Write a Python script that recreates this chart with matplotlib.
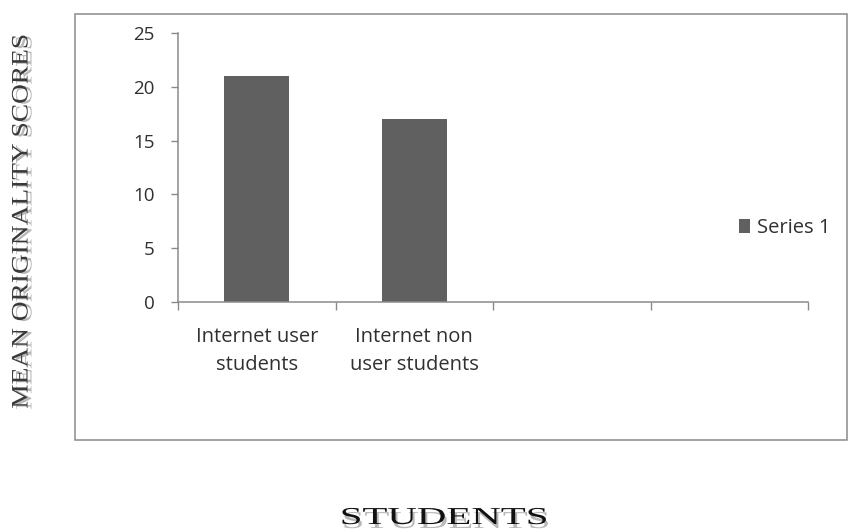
import matplotlib
matplotlib.use("Agg")
import matplotlib.pyplot as plt
from matplotlib.patches import Rectangle
from matplotlib.patheffects import AbstractPathEffect
from matplotlib.transforms import Affine2D

# --- data -------------------------------------------------------------
categories = ["Internet user\nstudents", "Internet non\nuser students", "", ""]
series_name = "Series 1"
series_values = [21, 17, None, None]
y_ticks = [0, 5, 10, 15, 20, 25]

# --- style ------------------------------------------------------------
BAR_COLOR = "#606060"
AXIS_COLOR = "#8a8a8a"
TEXT_COLOR = "#303030"
SANS = ["Open Sans", "DejaVu Sans"]
SERIF = ["Liberation Serif", "DejaVu Serif"]

W, H, DPI = 848, 532, 100


class ScaledGlyphs(AbstractPathEffect):
    """Draw text glyphs scaled about a fixed pixel point, optionally offset and recoloured."""

    def __init__(self, center, sx=1.0, sy=1.0, shift=(0, 0), color=None, alpha=None):
        super().__init__()
        self.center = center
        self.sx, self.sy = sx, sy
        self.shift = shift
        self.color = color
        self.alpha = alpha

    def draw_path(self, renderer, gc, tpath, affine, rgbFace=None):
        gc0 = renderer.new_gc()
        gc0.copy_properties(gc)
        if self.alpha is not None:
            gc0.set_alpha(self.alpha)
        face = rgbFace if self.color is None else matplotlib.colors.to_rgba(self.color)
        cx, cy = self.center
        tr = affine + Affine2D().translate(-cx, -cy).scale(self.sx, self.sy).translate(
            cx + self.shift[0], cy + self.shift[1])
        renderer.draw_path(gc0, tpath, tr, face)
        gc0.restore()


fig = plt.figure(figsize=(W / DPI, H / DPI), dpi=DPI)
fig.patch.set_facecolor("white")

# outer chart border
fig.patches.append(Rectangle((75 / W, 1 - 440 / H), 772 / W, 426 / H,
                             transform=fig.transFigure, fill=False,
                             edgecolor=AXIS_COLOR, linewidth=1.1))

ax = fig.add_axes([178 / W, 1 - 302 / H, 630 / W, 269 / H])
x = list(range(len(categories)))
heights = [v if v is not None else 0 for v in series_values]
bars = ax.bar(x, heights, width=0.41, color=BAR_COLOR, label=series_name)

ax.set_xlim(-0.5, len(categories) - 0.5)
ax.set_ylim(0, 25)
ax.set_yticks(y_ticks)
ax.set_yticklabels([str(t) for t in y_ticks], fontfamily=SANS, fontsize=13.5, color=TEXT_COLOR)

ax.set_xticks(x)
ax.set_xticklabels(categories, fontfamily=SANS, fontsize=14.5, color=TEXT_COLOR,
                   linespacing=1.52)
ax.set_xticks([i - 0.5 for i in range(len(categories) + 1)], minor=True)
ax.tick_params(axis="x", which="major", length=0, pad=18)
ax.tick_params(axis="x", which="minor", length=6, width=1, color=AXIS_COLOR)
ax.tick_params(axis="y", length=5, width=1, color=AXIS_COLOR, pad=12)

for side in ("top", "right"):
    ax.spines[side].set_visible(False)
for side in ("left", "bottom"):
    ax.spines[side].set_color(AXIS_COLOR)
    ax.spines[side].set_linewidth(1.1)

leg = fig.legend(handles=[bars], labels=[series_name], loc="center left",
                 bbox_to_anchor=(739 / W, 1 - 228 / H), frameon=False,
                 borderpad=0, borderaxespad=0, handlelength=0.55, handleheight=0.65,
                 handletextpad=0.35, prop={"family": SANS, "size": 14.5})
for t in leg.get_texts():
    t.set_color(TEXT_COLOR)

# axis titles with a soft drop shadow
ylab_c = (22, H - 221)
fig.text(ylab_c[0] / W, ylab_c[1] / H, "MEAN ORIGINALITY SCORES", rotation=90,
         ha="center", va="center", fontfamily=SERIF, fontsize=17, color="#3a3a3a",
         path_effects=[
             ScaledGlyphs(ylab_c, sy=1.16, shift=(4, -1), color="#b8b8b8"),
             ScaledGlyphs(ylab_c, sy=1.16),
         ])

xlab_c = (444, H - 516)
fig.text(xlab_c[0] / W, (H - 524) / H, "STUDENTS", ha="center", va="baseline",
         fontfamily=SERIF, fontsize=17.5, color="#111111",
         path_effects=[
             ScaledGlyphs(xlab_c, sx=1.68, shift=(2, -4), color="#b8b8b8"),
             ScaledGlyphs(xlab_c, sx=1.68),
         ])

fig.savefig("out.png", dpi=DPI)
